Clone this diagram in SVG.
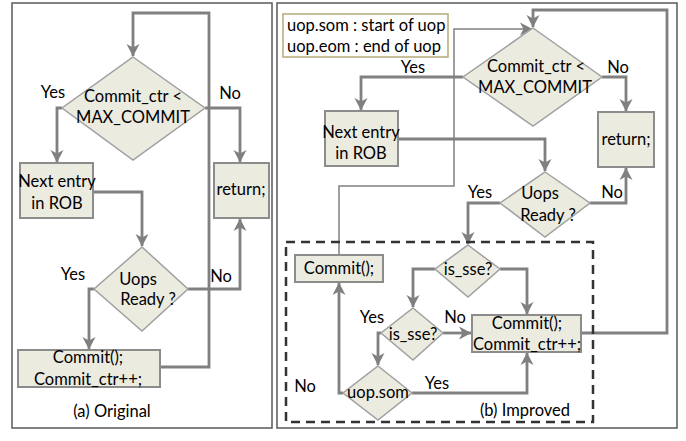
<svg xmlns="http://www.w3.org/2000/svg" width="686" height="441" viewBox="0 0 686 441">
<style>
text{font-family:Lato,"Liberation Sans",Arial,sans-serif;font-size:16.5px;fill:#000;text-anchor:middle}
.lg{text-anchor:start}
.panel{fill:#fff;stroke:#595959;stroke-width:1.5}
.box{fill:#ECEBE0;stroke:#8C8C8C;stroke-width:2}
.dia{fill:#ECEBE0;stroke:#A0A0A0;stroke-width:1.5}
.c{fill:none;stroke:#808080;stroke-width:2.8;stroke-linejoin:miter}
.thin{fill:none;stroke:#808080;stroke-width:1.5}
</style>
<defs>
<marker id="ah" markerUnits="userSpaceOnUse" markerWidth="14" markerHeight="14" viewBox="0 0 14 14" refX="12" refY="7" orient="auto">
<path d="M0,0.5 L12.5,7 L0,13.5 L3.5,7 z" fill="#808080"/>
</marker>
</defs>
<rect class="panel" x="12" y="3" width="260" height="425"/>
<rect class="panel" x="277" y="3" width="400" height="425"/>
<g id="connectors">
<path class="c" d="M160,367 H209 V13 H133 V56" marker-end="url(#ah)"/>
<path class="c" d="M62,108 H57 V162" marker-end="url(#ah)"/>
<path class="c" d="M205,108 H240 V162" marker-end="url(#ah)"/>
<path class="c" d="M93,192 H142 V246" marker-end="url(#ah)"/>
<path class="c" d="M94,289 H89 V349" marker-end="url(#ah)"/>
<path class="c" d="M188,289 H240 V219" marker-end="url(#ah)"/>
<path class="c" d="M581,333 H667 V10 H533 V27" marker-end="url(#ah)"/>
<path class="thin" d="M339,255 V186 H454 V29 H532" marker-end="url(#ah)"/>
<path class="c" d="M463,77 H361 V110" marker-end="url(#ah)"/>
<path class="c" d="M602,77 H626 V111" marker-end="url(#ah)"/>
<path class="c" d="M398,139 H545 V171" marker-end="url(#ah)"/>
<path class="c" d="M500,203 H468 V244" marker-end="url(#ah)"/>
<path class="c" d="M590,203 H626 V168" marker-end="url(#ah)"/>
<path class="c" d="M435,269 H413 V307" marker-end="url(#ah)"/>
<path class="c" d="M500,269 H527 V314" marker-end="url(#ah)"/>
<path class="c" d="M443,333 H471" marker-end="url(#ah)"/>
<path class="c" d="M381,333 H378 V365" marker-end="url(#ah)"/>
<path class="c" d="M343,393 H339 V283" marker-end="url(#ah)"/>
<path class="c" d="M412,393 H527 V353" marker-end="url(#ah)"/>
</g>
<rect x="286" y="242" width="307" height="180" fill="none" stroke="#333" stroke-width="2.5" stroke-dasharray="9,6"/>
<g id="a_cond">
<polygon class="dia" points="133,57 205,108 133,160 62,108"/>
<text x="133" y="102">Commit_ctr &lt;</text>
<text x="133" y="123">MAX_COMMIT</text>
</g>
<g id="a_next">
<rect class="box" x="20" y="163" width="73" height="55"/>
<text x="57" y="187">Next entry</text>
<text x="57" y="209">in ROB</text>
</g>
<g id="a_return">
<rect class="box" x="214" y="163" width="55" height="55"/>
<text x="241" y="195">return;</text>
</g>
<g id="a_uops">
<polygon class="dia" points="142,247 188,289 142,331 94,289"/>
<text x="138" y="285">Uops</text>
<text x="148" y="305">Ready ?</text>
</g>
<g id="a_commit">
<rect class="box" x="18" y="350" width="142" height="37"/>
<text x="88" y="363">Commit();</text>
<text x="88" y="385">Commit_ctr++;</text>
</g>
<g id="a_labels">
<text x="53" y="98">Yes</text>
<text x="230" y="99">No</text>
<text x="73" y="280">Yes</text>
<text x="221" y="282">No</text>
<text x="112" y="417">(a) Original</text>
</g>
<g id="legend">
<rect x="283" y="14" width="165" height="43" fill="#fff" stroke="#B5A97A" stroke-width="1.5"/>
<text class="lg" x="287" y="31">uop.som : start of uop</text>
<text class="lg" x="287" y="52">uop.eom : end of uop</text>
</g>
<g id="b_cond">
<polygon class="dia" points="533,28 602,77 533,126 463,77"/>
<text x="536" y="72">Commit_ctr &lt;</text>
<text x="535" y="93">MAX_COMMIT</text>
</g>
<g id="b_next">
<rect class="box" x="325" y="111" width="73" height="55"/>
<text x="361" y="138">Next entry</text>
<text x="361" y="159">in ROB</text>
</g>
<g id="b_return">
<rect class="box" x="598" y="112" width="56" height="55"/>
<text x="626" y="145">return;</text>
</g>
<g id="b_uops">
<polygon class="dia" points="545,172 590,203 545,237 500,203"/>
<text x="540" y="199">Uops</text>
<text x="548" y="221">Ready ?</text>
</g>
<g id="b_sse1">
<polygon class="dia" points="468,245 500,269 468,297 435,269"/>
<text x="468" y="275">is_sse?</text>
</g>
<g id="b_sse2">
<polygon class="dia" points="413,308 443,333 413,360 381,333"/>
<text x="413" y="340">is_sse?</text>
</g>
<g id="b_som">
<polygon class="dia" points="378,366 412,393 378,420 343,393"/>
<text x="378" y="398">uop.som</text>
</g>
<g id="b_commit1">
<rect class="box" x="295" y="255" width="88" height="27"/>
<text x="339" y="274">Commit();</text>
</g>
<g id="b_commit2">
<rect class="box" x="472" y="315" width="109" height="37"/>
<text x="527" y="329">Commit();</text>
<text x="527" y="350">Commit_ctr++;</text>
</g>
<g id="b_labels">
<text x="413" y="73">Yes</text>
<text x="618" y="73">No</text>
<text x="480" y="198">Yes</text>
<text x="612" y="198">No</text>
<text x="372" y="323">Yes</text>
<text x="455" y="323">No</text>
<text x="305" y="392">No</text>
<text x="437" y="389">Yes</text>
<text x="525" y="416">(b) Improved</text>
</g>
</svg>
